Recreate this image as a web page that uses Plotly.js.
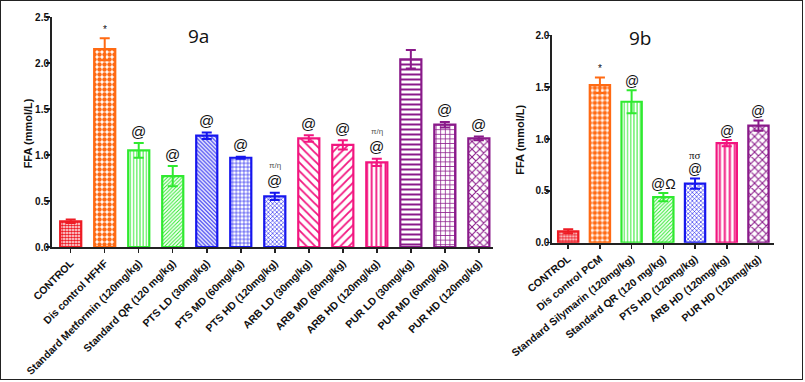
<!DOCTYPE html>
<html><head><meta charset="utf-8">
<script src="https://cdn.plot.ly/plotly-3.0.1.min.js"></script>
<style>
html,body{margin:0;padding:0;background:#fff;}
#wrap{position:relative;width:805px;height:382px;}
#chart{width:805px;height:382px;}
#frame{position:absolute;left:0;top:0;width:803px;height:380px;border:1.5px solid #222;pointer-events:none;box-sizing:border-box;}
</style>
</head><body>
<div id="wrap"><div id="chart"></div><div id="frame"></div></div>
<script>
// ---- Panel 9a data ----
var catsA = ["CONTROL","Dis control HFHF","Standard Metformin (120mg/kg)","Standard QR (120 mg/kg)","PTS LD (30mg/kg)","PTS MD (60mg/kg)","PTS HD (120mg/kg)","ARB LD (30mg/kg)","ARB MD (60mg/kg)","ARB HD (120mg/kg)","PUR LD (30mg/kg)","PUR MD (60mg/kg)","PUR HD (120mg/kg)"];
var valsA = [0.28,2.15,1.05,0.77,1.21,0.97,0.55,1.18,1.11,0.92,2.04,1.33,1.18];
var errA  = [0.02,0.12,0.08,0.11,0.035,0.01,0.04,0.035,0.05,0.04,0.10,0.03,0.02];
var markA = ["","*","@","@","@","@","@","@","@","@","","@","@"];
var supA  = ["","","","","","","π/η","","","π/η","","",""];
var yTicksA = [0,0.5,1.0,1.5,2.0,2.5];

// ---- Panel 9b data ----
var catsB = ["CONTROL","Dis control PCM","Standard Silymarin (120mg/kg)","Standard QR (120 mg/kg)","PTS HD (120mg/kg)","ARB HD (120mg/kg)","PUR HD (120mg/kg)"];
var valsB = [0.11,1.52,1.36,0.44,0.57,0.96,1.13];
var errB  = [0.02,0.075,0.11,0.04,0.05,0.03,0.05];
var markB = ["","*","@","@Ω","@","@","@"];
var supB  = ["","","","","πσ","",""];
var yTicksB = [0,0.5,1.0,1.5,2.0];
var yTitle = "FFA (mmol/L)";

// ---- styles ----
var RED="#ee1c25", ORG="#ff6a13", GRN="#2fea2f", BLU="#1616ee", PNK="#f2157f", PUR="#8a1a8a";
var styleA = [
  {c:RED,s:".",z:3,d:0.62},
  {c:ORG,s:".",z:5,d:0.62},
  {c:GRN,s:"|",z:3.2,d:0.3},
  {c:GRN,s:"/",z:2.6,d:0.4},
  {c:BLU,s:"\\",z:2.8,d:0.4},
  {c:BLU,s:"+",z:3.8,d:0.3},
  {c:BLU,s:"x",z:3,d:0.35},
  {c:PNK,s:"\\",z:6,d:0.3},
  {c:PNK,s:"/",z:6,d:0.3},
  {c:PNK,s:"|",z:4.6,d:0.4},
  {c:PUR,s:"-",z:5,d:0.4},
  {c:PUR,s:"+",z:4.6,d:0.3},
  {c:PUR,s:"x",z:5.5,d:0.35}
];
var styleB = [
  {c:RED,s:".",z:3,d:0.62},
  {c:ORG,s:".",z:5,d:0.62},
  {c:GRN,s:"|",z:3.2,d:0.3},
  {c:GRN,s:"/",z:2.6,d:0.4},
  {c:BLU,s:"x",z:3,d:0.35},
  {c:PNK,s:"|",z:5,d:0.4},
  {c:PUR,s:"x",z:5.5,d:0.35}
];

var FONT = "Liberation Sans, Arial, sans-serif";
var traces = [];
var annotations = [];
function addPanel(cats, vals, errs, marks, sups, styles, xa, ya, width, markShift, supShift, markSize, supSize){
  for (var i=0;i<cats.length;i++){
    var st = styles[i];
    traces.push({
      type:"bar", x:[cats[i]], y:[vals[i]], xaxis:xa, yaxis:ya, width:width,
      marker:{color:st.c, line:{color:st.c,width:2.2},
        pattern:{shape:st.s,size:st.z,solidity:st.d,fgcolor:st.c,bgcolor:"#ffffff",fillmode:"replace"}},
      error_y:{type:"data",array:[errs[i]],visible:true,color:st.c,thickness:2,width:5},
      showlegend:false, hoverinfo:"skip"
    });
    var top = vals[i]+errs[i];
    if (marks[i]){
      var isStar = marks[i]==="*";
      annotations.push({xref:xa, yref:ya, x:cats[i], y:top, text:marks[i], showarrow:false,
        yanchor:"middle", yshift: isStar ? 9 : markShift,
        font:{family:FONT, size: isStar?10:markSize, color:"#111"}});
    }
    if (sups[i]){
      var big = sups[i]==="πσ";
      annotations.push({xref:xa, yref:ya, x:cats[i], y:top, text:sups[i], showarrow:false,
        yanchor:"middle", yshift: supShift,
        font:{family: big ? "Liberation Serif, Times New Roman, serif" : FONT, size: supSize, color: big?"#111":"#555"}});
    }
  }
}
addPanel(catsA, valsA, errA, markA, supA, styleA, "x", "y", 0.62, 12, 27, 15, 8);
addPanel(catsB, valsB, errB, markB, supB, styleB, "x2", "y2", 0.64, 9, 23, 14, 11);

annotations.push({xref:"x", yref:"y", x:catsA[4], y:2.29, text:"9a", showarrow:false, xshift:-8,
  font:{family:"Open Sans, Liberation Sans, sans-serif", size:19, color:"#111"}});
annotations.push({xref:"x2", yref:"y2", x:catsB[2], y:1.975, text:"9b", showarrow:false, xshift:9,
  font:{family:"Open Sans, Liberation Sans, sans-serif", size:19, color:"#111"}});
// y-axis titles
annotations.push({xref:"paper", yref:"paper", x:-0.034, y:0.496, text:yTitle, textangle:-90, showarrow:false,
  xanchor:"center", yanchor:"middle", font:{family:FONT, size:11, color:"#111", weight:"bold"}});
annotations.push({xref:"paper", yref:"paper", x:0.647, y:0.467, text:yTitle, textangle:-90, showarrow:false,
  xanchor:"center", yanchor:"middle", font:{family:FONT, size:11, color:"#111", weight:"bold"}});

var tickFont = {family:FONT, size:10, color:"#111", weight:"bold"};
var xTickFont = {family:FONT, size:10.5, color:"#111", weight:"bold"};
var axBase = {showline:true, linecolor:"#222", linewidth:2, ticks:"outside", ticklen:4, tickwidth:1.5, tickcolor:"#222",
  showgrid:false, zeroline:false, tickfont:tickFont};

var layout = {
  width:805, height:382,
  margin:{l:52, r:31, t:17, b:135},
  paper_bgcolor:"#fff", plot_bgcolor:"#fff",
  barmode:"overlay",
  showlegend:false,
  xaxis: Object.assign({}, axBase, {domain:[0,0.611], type:"category", categoryorder:"array", categoryarray:catsA,
    range:[-0.55,12.42], tickangle:-45, anchor:"y", tickfont:xTickFont}),
  yaxis: Object.assign({}, axBase, {domain:[0,1], range:[0,2.5], tickvals:yTicksA, tickformat:".1f", anchor:"x", ticklabelstandoff:-5}),
  xaxis2: Object.assign({}, axBase, {domain:[0.693,1], type:"category", categoryorder:"array", categoryarray:catsB,
    range:[-0.5,6.49], tickangle:-39, anchor:"y2", tickfont:xTickFont}),
  yaxis2: Object.assign({}, axBase, {domain:[0.0187,0.92], range:[0,2], tickvals:yTicksB, tickformat:".1f", anchor:"x2", ticklabelstandoff:-5}),
  annotations: annotations
};

Plotly.newPlot("chart", traces, layout, {displayModeBar:false, staticPlot:true});
</script>
</body></html>
